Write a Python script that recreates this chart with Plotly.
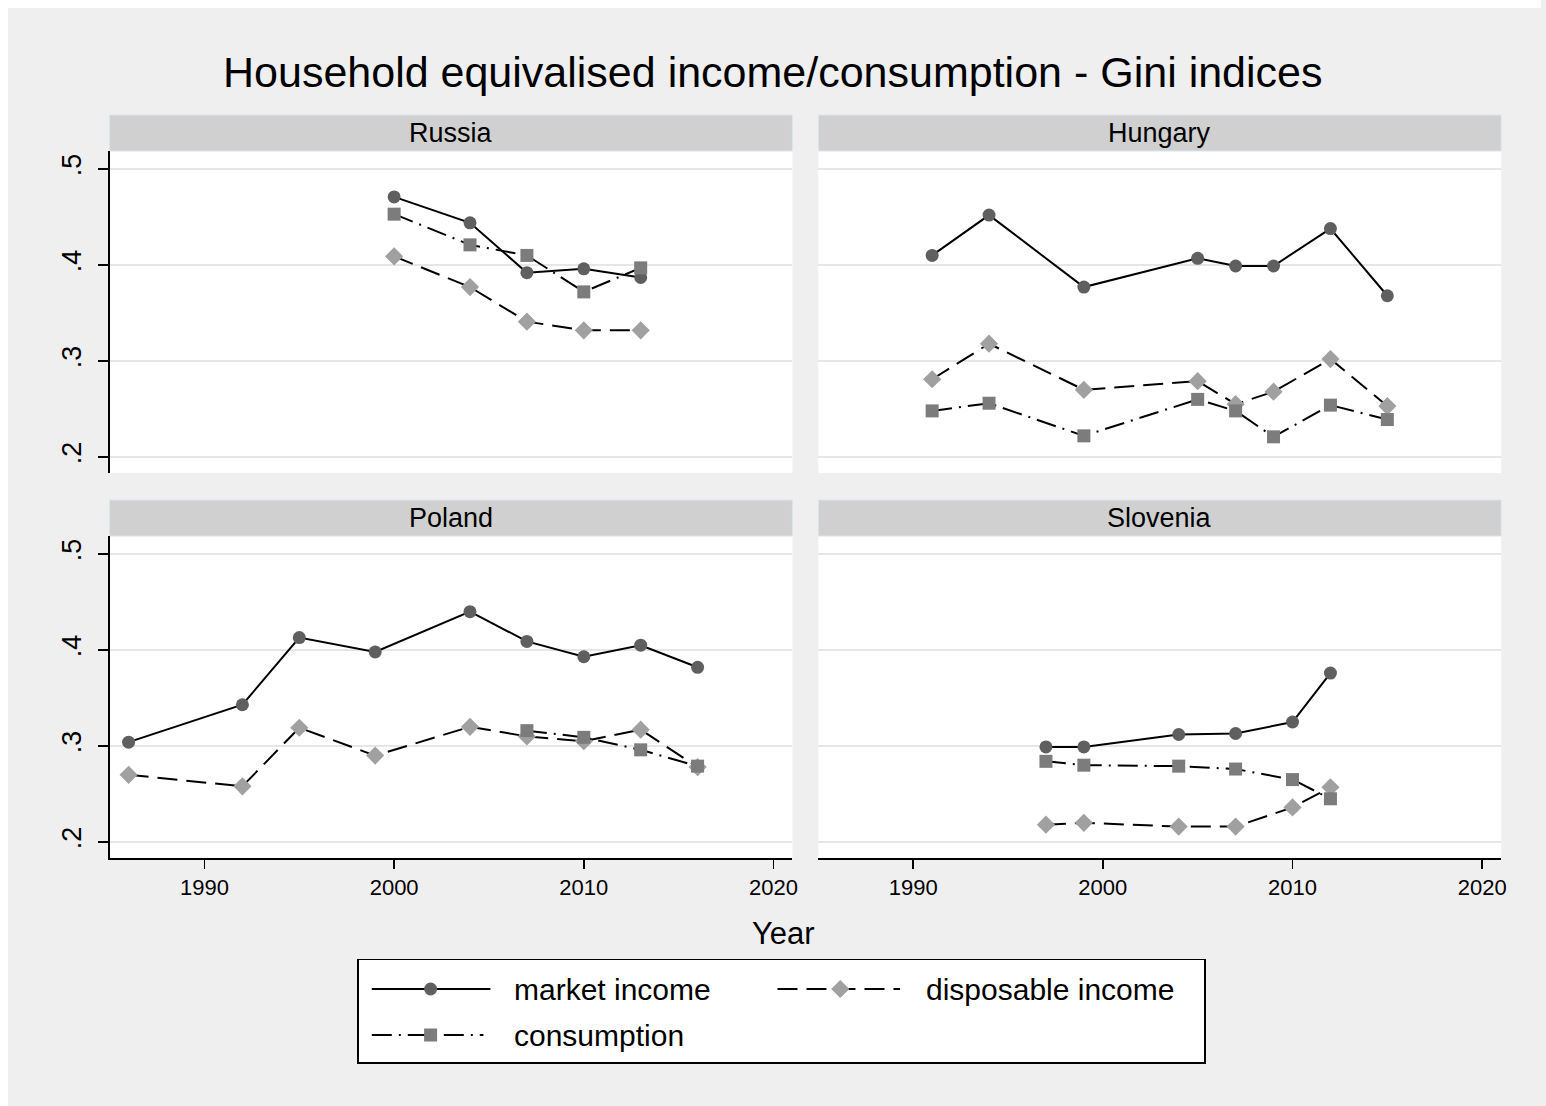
import plotly.graph_objects as go

# ---------------- data ----------------
russia_years = [2000, 2004, 2007, 2010, 2013]
russia_market = [0.471, 0.444, 0.392, 0.396, 0.387]
russia_disp = [0.409, 0.377, 0.341, 0.332, 0.332]
russia_cons = [0.453, 0.421, 0.410, 0.372, 0.397]

hungary_years = [1991, 1994, 1999, 2005, 2007, 2009, 2012, 2015]
hungary_market = [0.410, 0.452, 0.377, 0.407, 0.399, 0.399, 0.438, 0.368]
hungary_disp = [0.281, 0.318, 0.270, 0.279, 0.255, 0.268, 0.302, 0.253]
hungary_cons = [0.248, 0.256, 0.222, 0.260, 0.248, 0.221, 0.254, 0.239]

poland_years = [1986, 1992, 1995, 1999, 2004, 2007, 2010, 2013, 2016]
poland_market = [0.304, 0.343, 0.413, 0.398, 0.440, 0.409, 0.393, 0.405, 0.382]
poland_disp = [0.270, 0.258, 0.319, 0.290, 0.320, 0.310, 0.305, 0.317, 0.278]
poland_cons_years = [2007, 2010, 2013, 2016]
poland_cons = [0.316, 0.309, 0.296, 0.279]

slovenia_years = [1997, 1999, 2004, 2007, 2010, 2012]
slovenia_market = [0.299, 0.299, 0.312, 0.313, 0.325, 0.376]
slovenia_disp = [0.218, 0.220, 0.216, 0.216, 0.236, 0.257]
slovenia_cons = [0.284, 0.280, 0.279, 0.276, 0.265, 0.245]

y_tickvals = [0.2, 0.3, 0.4, 0.5]
y_ticktext = [".2", ".3", ".4", ".5"]
x_tickvals = [1990, 2000, 2010, 2020]
x_ticktext = ["1990", "2000", "2010", "2020"]

series_names = ["market income", "disposable income", "consumption"]
title_text = "Household equivalised income/consumption - Gini indices"
x_title = "Year"

# ---------------- styling ----------------
W, H = 1546, 1106
FONT = "Liberation Sans, Arial, Helvetica, sans-serif"
BG = "#efefef"
STRIP = "#d0d0d0"
GRID = "#e6e6e6"
styles = {
    "market income": dict(dash="solid", symbol="circle", size=13, color="#5f5f5f"),
    "disposable income": dict(dash="20px,9px", symbol="diamond", size=14, color="#a0a0a0"),
    "consumption": dict(dash="20px,7px,2px,7px", symbol="square", size=13, color="#7c7c7c"),
}

panels = [
    dict(name="Russia", box=(110, 151, 795, 473), row=0, col=0,
         data=[(russia_years, russia_market), (russia_years, russia_disp), (russia_years, russia_cons)]),
    dict(name="Hungary", box=(821, 151, 1506, 473), row=0, col=1,
         data=[(hungary_years, hungary_market), (hungary_years, hungary_disp), (hungary_years, hungary_cons)]),
    dict(name="Poland", box=(110, 536, 795, 858), row=1, col=0,
         data=[(poland_years, poland_market), (poland_years, poland_disp), (poland_cons_years, poland_cons)]),
    dict(name="Slovenia", box=(821, 536, 1506, 858), row=1, col=1,
         data=[(slovenia_years, slovenia_market), (slovenia_years, slovenia_disp), (slovenia_years, slovenia_cons)]),
]
STRIP_H = 36
BORDER = 8  # white page border at top and left


def fx(p):
    return p / W


def fy(p):
    return 1 - p / H


fig = go.Figure()
layout = dict(
    width=W, height=H,
    margin=dict(l=0, r=0, t=0, b=0),
    paper_bgcolor=BG, plot_bgcolor="white",
    showlegend=False,
    font=dict(family=FONT, color="black"),
)
shapes = [
    dict(type="rect", xref="paper", yref="paper", x0=0, x1=1, y0=fy(BORDER), y1=1,
         fillcolor="white", line=dict(width=0), layer="below"),
    dict(type="rect", xref="paper", yref="paper", x0=0, x1=fx(BORDER), y0=0, y1=1,
         fillcolor="white", line=dict(width=0), layer="below"),
]
annotations = []

for i, p in enumerate(panels, start=1):
    x0, y0, x1, y1 = p["box"]
    bottom = p["row"] == 1
    left = p["col"] == 0
    layout[f"xaxis{i}"] = dict(
        domain=[fx(x0), fx(x1)], range=[1985, 2021], anchor=f"y{i}",
        tickvals=x_tickvals, ticktext=x_ticktext,
        showgrid=False, zeroline=False,
        showline=bottom, linecolor="black", linewidth=1.5,
        ticks="outside" if bottom else "", ticklen=9, tickwidth=1.5, tickcolor="black",
        showticklabels=bottom, tickfont=dict(size=22, family=FONT, color="black"),
        fixedrange=True,
    )
    layout[f"yaxis{i}"] = dict(
        domain=[fy(y1), fy(y0)], range=[0.1833, 0.5188], anchor=f"x{i}",
        tickvals=y_tickvals, ticktext=y_ticktext, tickangle=-90,
        showgrid=True, gridcolor=GRID, gridwidth=2, zeroline=False,
        showline=left, linecolor="black", linewidth=1.5,
        ticks="outside" if left else "", ticklen=10, tickwidth=1.5, tickcolor="black",
        ticklabelstandoff=6,
        showticklabels=left, tickfont=dict(size=27, family=FONT, color="black"),
        fixedrange=True,
    )
    # strip header
    shapes.append(dict(type="rect", xref="paper", yref="paper",
                       x0=fx(x0), x1=fx(x1), y0=fy(y0), y1=fy(y0 - STRIP_H),
                       fillcolor=STRIP, line=dict(color="#dce5ea", width=1), layer="below"))
    annotations.append(dict(text=p["name"], xref="paper", yref="paper",
                            x=fx((x0 + x1) / 2), y=fy(y0 - STRIP_H / 2),
                            xanchor="center", yanchor="middle", showarrow=False,
                            font=dict(size=27, family=FONT, color="black")))
    for name, (xs, ys) in zip(series_names, p["data"]):
        st = styles[name]
        fig.add_trace(go.Scatter(
            x=xs, y=ys, mode="lines+markers", name=name,
            xaxis=f"x{i}", yaxis=f"y{i}",
            line=dict(color="black", width=2, dash=st["dash"]),
            marker=dict(symbol=st["symbol"], size=st["size"], color=st["color"], line=dict(width=0)),
            cliponaxis=False, hoverinfo="skip",
        ))

# ---------------- legend box (own axis) ----------------
LX0, LY0, LX1, LY1 = 360, 960, 1208, 1062
layout["xaxis5"] = dict(domain=[fx(LX0), fx(LX1)], range=[0, LX1 - LX0], anchor="y5",
                        showline=True, mirror=True, linecolor="black", linewidth=1.5,
                        showgrid=False, zeroline=False, showticklabels=False, ticks="",
                        fixedrange=True)
layout["yaxis5"] = dict(domain=[fy(LY1), fy(LY0)], range=[LY1 - LY0, 0], anchor="x5",
                        showline=True, mirror=True, linecolor="black", linewidth=1.5,
                        showgrid=False, zeroline=False, showticklabels=False, ticks="",
                        fixedrange=True)

legend_items = [
    ("market income", 13, 132, 72, 29, 154),
    ("disposable income", 420, 543, 483, 29, 567),
    ("consumption", 13, 125, 72, 75, 154),
]
for name, lx0, lx1, mx, ly, tx in legend_items:
    st = styles[name]
    fig.add_trace(go.Scatter(x=[lx0, lx1], y=[ly, ly], mode="lines", xaxis="x5", yaxis="y5",
                             line=dict(color="black", width=2, dash=st["dash"]), hoverinfo="skip"))
    fig.add_trace(go.Scatter(x=[mx], y=[ly], mode="markers", xaxis="x5", yaxis="y5",
                             marker=dict(symbol=st["symbol"], size=st["size"], color=st["color"],
                                         line=dict(width=0)), hoverinfo="skip"))
    annotations.append(dict(text=name, xref="x5", yref="y5", x=tx, y=ly,
                            xanchor="left", yanchor="middle", showarrow=False,
                            font=dict(size=30, family=FONT, color="black")))

# ---------------- titles ----------------
annotations.append(dict(text=title_text, xref="paper", yref="paper", x=fx(775), y=fy(72),
                        xanchor="center", yanchor="middle", showarrow=False,
                        font=dict(size=43, family=FONT, color="black")))
annotations.append(dict(text=x_title, xref="paper", yref="paper", x=fx(786), y=fy(933),
                        xanchor="center", yanchor="middle", showarrow=False,
                        font=dict(size=31, family=FONT, color="black")))

layout["shapes"] = shapes
layout["annotations"] = annotations
layout["hovermode"] = False
fig.update_layout(**layout)
# remove the default page margin so the figure fills the window exactly
fig.write_html(
    "out.html",
    config={"displayModeBar": False, "staticPlot": True},
    post_script="document.body.style.margin='0';"
                "document.body.style.background='" + BG + "';"
                "document.documentElement.style.overflow='hidden';",
)
